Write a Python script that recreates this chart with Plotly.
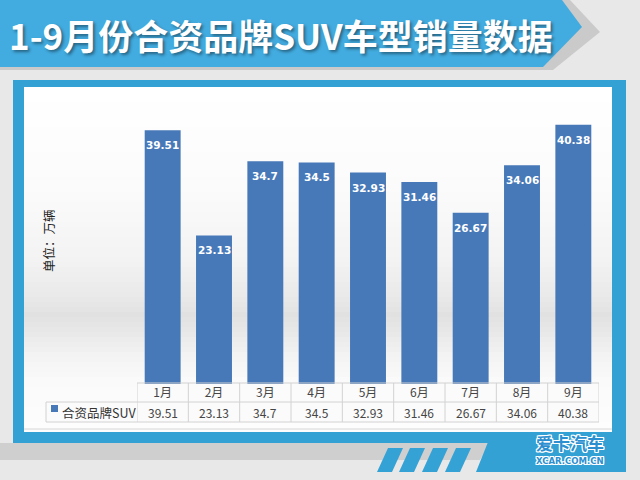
import plotly.graph_objects as go

# ---- data ----
months = ["1月", "2月", "3月", "4月", "5月", "6月", "7月", "8月", "9月"]
sales = [39.51, 23.13, 34.7, 34.5, 32.93, 31.46, 26.67, 34.06, 40.38]
value_labels = ["39.51", "23.13", "34.7", "34.5", "32.93", "31.46", "26.67", "34.06", "40.38"]
series_name = "合资品牌SUV"
title_text = "1-9月份合资品牌SUV车型销量数据"
unit_text = "单位：万辆"

W, H = 640, 480
ML, MR, MT, MB = 137, 41, 95, 96
PW, PH = W - ML - MR, H - MT - MB
CJK = "Noto Sans CJK SC"
BAR = "#4779b9"


def X(p):
    # pixel -> paper x (paper spans the plot area)
    return (p - ML) / PW


def Y(p):
    # pixel (from top) -> paper y
    return (H - MB - p) / PH


def path(points):
    return "M" + " L".join(f"{X(a):.5f},{Y(b):.5f}" for a, b in points) + " Z"


shapes = []
# header banner shadow + banner
shapes.append(dict(type="path", xref="paper", yref="paper", layer="below",
                   path=path([(0, 0), (570, 0), (600, 32), (553, 70), (0, 70)]),
                   fillcolor="#cacaca", line=dict(width=0)))
shapes.append(dict(type="path", xref="paper", yref="paper", layer="below",
                   path=path([(0, 0), (562, 0), (582, 27), (543, 67), (0, 67)]),
                   fillcolor="#42abdf", line=dict(width=0)))
# bottom gray band and stripes
shapes.append(dict(type="path", xref="paper", yref="paper", layer="below",
                   path=path([(0, 443), (490, 443), (480, 460), (0, 460)]),
                   fillcolor="#cfcfcf", line=dict(width=0)))
for bx in [377, 399, 422, 445]:
    shapes.append(dict(type="path", xref="paper", yref="paper", layer="below",
                       path=path([(bx, 472), (bx + 15, 472), (bx + 26, 448), (bx + 11, 448)]),
                       fillcolor="#35a2d6", line=dict(width=0)))
# blue frame
shapes.append(dict(type="rect", xref="paper", yref="paper", layer="below",
                   x0=X(13), x1=X(626), y0=Y(443), y1=Y(80),
                   fillcolor="#33a1d4", line=dict(width=0)))
shapes.append(dict(type="path", xref="paper", yref="paper", layer="below",
                   path=path([(488, 442), (626, 442), (626, 472), (476, 472)]),
                   fillcolor="#33a1d4", line=dict(width=0)))
# white panel with soft gradient
stops = [(87, 255), (190, 251), (260, 243), (300, 232), (315, 225), (330, 231),
         (355, 243), (380, 250), (432, 253)]
y = 87
step = 5
while y < 432:
    yc = y + step / 2
    g = 255
    for (ya, ga), (yb, gb) in zip(stops[:-1], stops[1:]):
        if ya <= yc <= yb:
            g = int(round(ga + (gb - ga) * (yc - ya) / (yb - ya)))
            break
    shapes.append(dict(type="rect", xref="paper", yref="paper", layer="below",
                       x0=X(24), x1=X(612), y0=Y(min(y + step, 432)), y1=Y(y),
                       fillcolor=f"rgb({g},{g},{g})", line=dict(width=0)))
    y += step
# chart area bottom edge line
shapes.append(dict(type="line", xref="paper", yref="paper", layer="below",
                   x0=X(24), x1=X(612), y0=Y(429), y1=Y(429),
                   line=dict(color="#d6d6d6", width=1)))
# table background
shapes.append(dict(type="rect", xref="paper", yref="paper", layer="below",
                   x0=X(46), x1=X(599), y0=Y(422), y1=Y(402),
                   fillcolor="#fbfbfb", line=dict(width=0)))
shapes.append(dict(type="rect", xref="paper", yref="paper", layer="below",
                   x0=X(137), x1=X(599), y0=Y(402), y1=Y(383),
                   fillcolor="#fbfbfb", line=dict(width=0)))
# table grid
grid = "#d2d2d2"
for i in range(len(months) + 1):
    shapes.append(dict(type="line", xref="x", yref="paper",
                       x0=i - 0.5, x1=i - 0.5, y0=Y(383), y1=Y(422),
                       line=dict(color=grid, width=1)))
shapes.append(dict(type="line", xref="paper", yref="paper",
                   x0=X(137), x1=X(599), y0=Y(383), y1=Y(383),
                   line=dict(color=grid, width=1)))
for yy in [402, 422]:
    shapes.append(dict(type="line", xref="paper", yref="paper",
                       x0=X(46), x1=X(599), y0=Y(yy), y1=Y(yy),
                       line=dict(color=grid, width=1)))
shapes.append(dict(type="line", xref="paper", yref="paper",
                   x0=X(46), x1=X(46), y0=Y(402), y1=Y(422),
                   line=dict(color=grid, width=1)))
# legend key
shapes.append(dict(type="rect", xref="paper", yref="paper",
                   x0=X(51), x1=X(58), y0=Y(412), y1=Y(405),
                   fillcolor=BAR, line=dict(width=0)))

fig = go.Figure(go.Bar(
    x=months, y=sales, width=0.7,
    marker=dict(color=BAR, line=dict(width=0)),
    hoverinfo="skip",
))

annotations = []
# value labels inside bars
for m, v, t in zip(months, sales, value_labels):
    annotations.append(dict(x=m, y=v, xref="x", yref="y", text=t, showarrow=False,
                            yshift=-15, xanchor="center", yanchor="middle",
                            font=dict(family="DejaVu Sans", size=10.5, color="white", weight="bold")))
# table values
for m, t in zip(months, value_labels):
    annotations.append(dict(x=m, y=Y(412), xref="x", yref="paper", text=t, showarrow=False,
                            xanchor="center", yanchor="middle",
                            font=dict(family=CJK, size=12, color="#454545")))
# legend text
annotations.append(dict(x=X(60), y=Y(412), xref="paper", yref="paper", text=series_name,
                        showarrow=False, xanchor="left", yanchor="middle",
                        font=dict(family=CJK, size=12.5, color="#333333")))
# y unit title
annotations.append(dict(x=X(48), y=Y(241), xref="paper", yref="paper", text=unit_text,
                        showarrow=False, textangle=-90, xanchor="center", yanchor="middle",
                        font=dict(family=CJK, size=12.5, color="#222222")))
# header title
annotations.append(dict(x=X(7), y=Y(34), xref="paper", yref="paper", text=title_text,
                        showarrow=False, xanchor="left", yanchor="middle",
                        font=dict(family=CJK, size=35, color="white", weight="bold",
                                  shadow="2px 2px 3px rgba(0,0,0,0.4)")))
# logo
outline = ("1px 0 0 #fff, -1px 0 0 #fff, 0 1px 0 #fff, 0 -1px 0 #fff, "
           "1px 1px 0 #fff, -1px -1px 0 #fff, 1px -1px 0 #fff, -1px 1px 0 #fff")
annotations.append(dict(x=X(570), y=Y(442), xref="paper", yref="paper", text="爱卡汽车",
                        showarrow=False, xanchor="center", yanchor="middle",
                        font=dict(family=CJK, size=17, color="#2b8fd0", weight="bold", shadow=outline)))
annotations.append(dict(x=X(570), y=Y(461), xref="paper", yref="paper", text="XCAR.COM.CN",
                        showarrow=False, xanchor="center", yanchor="middle",
                        font=dict(family="DejaVu Sans", size=8.5, color="#2b8fd0", weight="bold", shadow=outline)))

fig.update_layout(
    width=W, height=H, autosize=False,
    margin=dict(l=ML, r=MR, t=MT, b=MB, pad=0),
    paper_bgcolor="#e8e8e8",
    plot_bgcolor="rgba(0,0,0,0)",
    showlegend=False,
    bargap=0.3,
    shapes=shapes,
    annotations=annotations,
    xaxis=dict(type="category", range=[-0.5, 8.5], showgrid=False, zeroline=False,
               showline=False, ticks="", fixedrange=True,
               tickfont=dict(family=CJK, size=12, color="#454545")),
    yaxis=dict(range=[0, 45], visible=False, showgrid=False, zeroline=False, fixedrange=True),
)

fig.write_html("out.html", config={"displayModeBar": False})
